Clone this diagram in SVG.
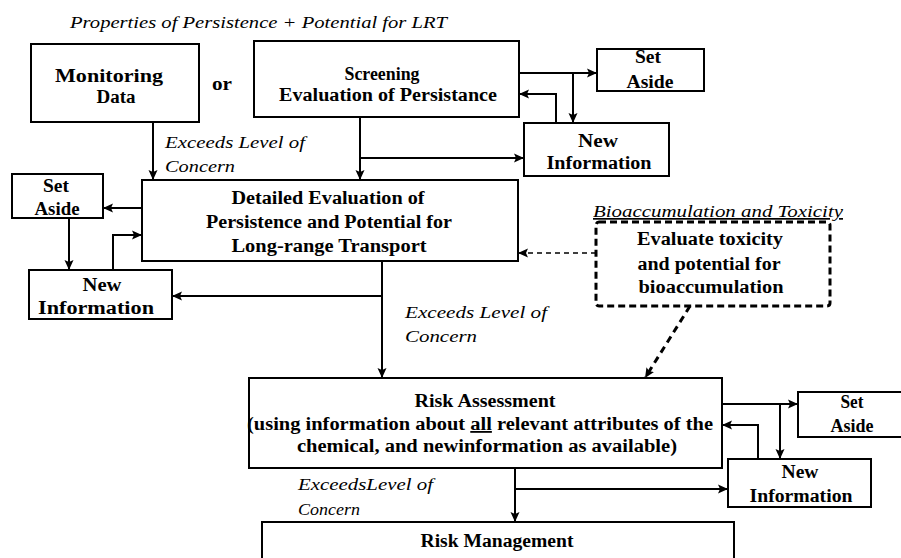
<svg xmlns="http://www.w3.org/2000/svg" width="901" height="558" viewBox="0 0 901 558" font-family="Liberation Serif, Times New Roman, Times, serif">
<style>
.box{fill:#fff;stroke:#000;stroke-width:2}
.dbox{fill:#fff;stroke:#000;stroke-width:3;stroke-dasharray:7 4}
.b{font-weight:bold;font-size:18px;fill:#000;text-anchor:middle}
.i{font-style:italic;font-size:17px;fill:#000}
.c{fill:none;stroke:#000;stroke-width:2}
.cd{fill:none;stroke:#000;stroke-width:1.6;stroke-dasharray:5 4}
.cd2{fill:none;stroke:#000;stroke-width:3;stroke-dasharray:7 5}
</style>
<defs>
<marker id="ah" markerUnits="userSpaceOnUse" markerWidth="10" markerHeight="10" viewBox="0 0 10 10" refX="10" refY="5" orient="auto">
<path d="M0,0.5 L10,5 L0,9.5 L2,5 Z" fill="#000"/>
</marker>
</defs>
<rect width="901" height="558" fill="#fff"/>

<text class="i" x="70" y="28" textLength="377" lengthAdjust="spacingAndGlyphs">Properties of Persistence + Potential for LRT</text>

<g id="connectors">
<path class="c" d="M153,122 V180" marker-end="url(#ah)"/>
<path class="c" d="M360,117 V180" marker-end="url(#ah)"/>
<path class="c" d="M360,158 H524" marker-end="url(#ah)"/>
<path class="c" d="M519,73 H597" marker-end="url(#ah)"/>
<path class="c" d="M573,73 V123" marker-end="url(#ah)"/>
<path class="c" d="M556,123 V94 H519" marker-end="url(#ah)"/>
<path class="c" d="M142,208 H103" marker-end="url(#ah)"/>
<path class="c" d="M69,218 V270" marker-end="url(#ah)"/>
<path class="c" d="M113,270 V235 H142" marker-end="url(#ah)"/>
<path class="c" d="M382,261 V378" marker-end="url(#ah)"/>
<path class="c" d="M382,296 H172" marker-end="url(#ah)"/>
<path class="cd" d="M596,253 H518" marker-end="url(#ah)"/>
<path class="cd2" d="M690,306 L645,378" marker-end="url(#ah)"/>
<path class="c" d="M722,404 H798" marker-end="url(#ah)"/>
<path class="c" d="M780,404 V459" marker-end="url(#ah)"/>
<path class="c" d="M758,459 V425 H722" marker-end="url(#ah)"/>
<path class="c" d="M515,468 V522" marker-end="url(#ah)"/>
<path class="c" d="M515,489 H728" marker-end="url(#ah)"/>
</g>

<g id="labels">
<text class="b" x="222" y="90" textLength="20" lengthAdjust="spacingAndGlyphs">or</text>
<text class="i" x="165" y="148" textLength="140" lengthAdjust="spacingAndGlyphs">Exceeds Level of</text>
<text class="i" x="165" y="172" textLength="70" lengthAdjust="spacingAndGlyphs">Concern</text>
<text class="i" x="405" y="318" textLength="142" lengthAdjust="spacingAndGlyphs">Exceeds Level of</text>
<text class="i" x="405" y="342" textLength="72" lengthAdjust="spacingAndGlyphs">Concern</text>
<text class="i" x="298" y="490" textLength="135" lengthAdjust="spacingAndGlyphs">ExceedsLevel of</text>
<text class="i" x="298" y="515" textLength="62" lengthAdjust="spacingAndGlyphs">Concern</text>
<text class="i" x="593" y="217" textLength="250" lengthAdjust="spacingAndGlyphs" text-decoration="underline">Bioaccumulation and Toxicity</text>
</g>

<g id="monitoring">
<rect class="box" x="31" y="44" width="168" height="78"/>
<text class="b" x="109" y="82" textLength="108" lengthAdjust="spacingAndGlyphs">Monitoring</text>
<text class="b" x="116" y="103" textLength="39" lengthAdjust="spacingAndGlyphs">Data</text>
</g>

<g id="screening">
<rect class="box" x="254" y="41" width="265" height="76"/>
<text class="b" x="382" y="80" textLength="75" lengthAdjust="spacingAndGlyphs">Screening</text>
<text class="b" x="388" y="101" textLength="218" lengthAdjust="spacingAndGlyphs">Evaluation of Persistance</text>
</g>

<g id="setaside1">
<rect class="box" x="597" y="49" width="107" height="42"/>
<text class="b" x="648" y="63" textLength="26" lengthAdjust="spacingAndGlyphs">Set</text>
<text class="b" x="650" y="88" textLength="47" lengthAdjust="spacingAndGlyphs">Aside</text>
</g>

<g id="newinfo1">
<rect class="box" x="524" y="123" width="145" height="53"/>
<text class="b" x="598" y="147" textLength="40" lengthAdjust="spacingAndGlyphs">New</text>
<text class="b" x="599" y="169" textLength="105" lengthAdjust="spacingAndGlyphs">Information</text>
</g>

<g id="setaside2">
<rect class="box" x="12" y="174" width="91" height="44"/>
<text class="b" x="56" y="192" textLength="26" lengthAdjust="spacingAndGlyphs">Set</text>
<text class="b" x="57" y="215" textLength="45" lengthAdjust="spacingAndGlyphs">Aside</text>
</g>

<g id="detailed">
<rect class="box" x="142" y="180" width="376" height="81"/>
<text class="b" x="328" y="204" textLength="193" lengthAdjust="spacingAndGlyphs">Detailed Evaluation of</text>
<text class="b" x="329" y="228" textLength="246" lengthAdjust="spacingAndGlyphs">Persistence and Potential for</text>
<text class="b" x="329" y="252" textLength="195" lengthAdjust="spacingAndGlyphs">Long-range Transport</text>
</g>

<g id="newinfo2">
<rect class="box" x="29" y="270" width="143" height="49"/>
<text class="b" x="102" y="291" textLength="39" lengthAdjust="spacingAndGlyphs">New</text>
<text class="b" x="96" y="314" textLength="116" lengthAdjust="spacingAndGlyphs">Information</text>
</g>

<g id="toxicity">
<rect class="dbox" x="596" y="222" width="234" height="84" rx="3"/>
<text class="b" x="710" y="245" textLength="146" lengthAdjust="spacingAndGlyphs">Evaluate toxicity</text>
<text class="b" x="709" y="270" textLength="143" lengthAdjust="spacingAndGlyphs">and potential for</text>
<text class="b" x="711" y="293" textLength="145" lengthAdjust="spacingAndGlyphs">bioaccumulation</text>
</g>

<g id="riskassessment">
<rect class="box" x="249" y="378" width="473" height="90"/>
<text class="b" x="485" y="407" textLength="141" lengthAdjust="spacingAndGlyphs">Risk Assessment</text>
<text class="b" x="480" y="430" textLength="466" lengthAdjust="spacingAndGlyphs">(using information about <tspan text-decoration="underline">all</tspan> relevant attributes of the</text>
<text class="b" x="487" y="452" textLength="380" lengthAdjust="spacingAndGlyphs">chemical, and newinformation as available)</text>
</g>

<g id="setaside3">
<rect class="box" x="798" y="392" width="115" height="45"/>
<text class="b" x="852" y="408" textLength="23" lengthAdjust="spacingAndGlyphs">Set</text>
<text class="b" x="852" y="432" textLength="43" lengthAdjust="spacingAndGlyphs">Aside</text>
</g>

<g id="newinfo3">
<rect class="box" x="728" y="459" width="143" height="48"/>
<text class="b" x="800" y="478" textLength="37" lengthAdjust="spacingAndGlyphs">New</text>
<text class="b" x="801" y="502" textLength="103" lengthAdjust="spacingAndGlyphs">Information</text>
</g>

<g id="riskmanagement">
<rect class="box" x="262" y="522" width="472" height="45"/>
<text class="b" x="497" y="547" textLength="153" lengthAdjust="spacingAndGlyphs">Risk Management</text>
</g>
</svg>
